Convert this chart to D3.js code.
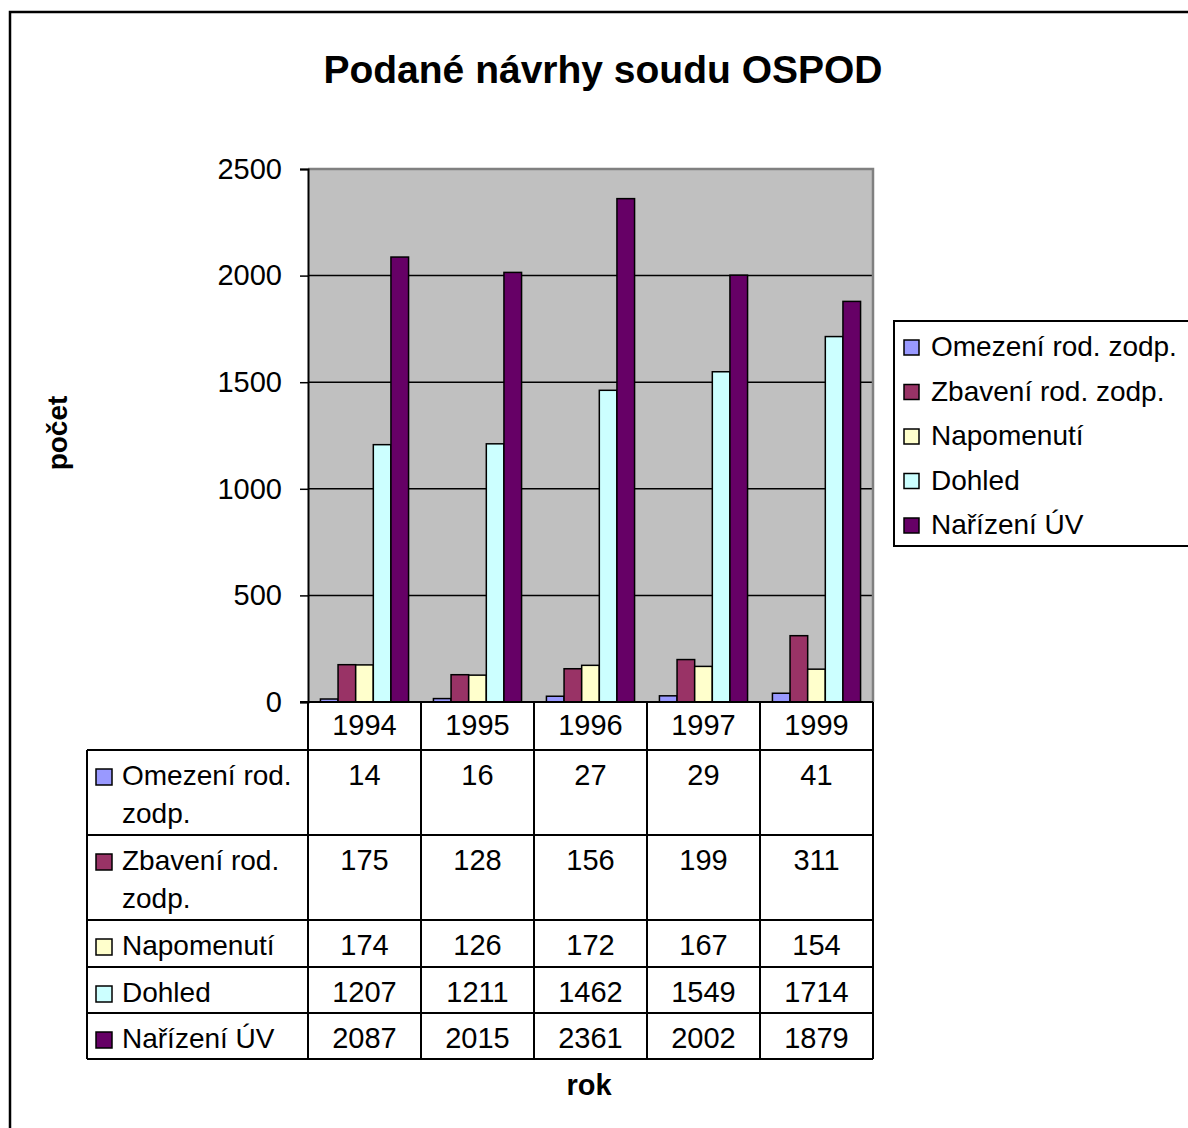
<html>
<head>
    <title>Podané návrhy soudu OSPOD</title>
    <script src="https://d3js.org/d3.v7.min.js"></script>
    <style>
        body { margin: 0; background: #fff; }
        text { font-family: "Liberation Sans", Arial, sans-serif; fill: #000; }
        .grid line { stroke: #000; stroke-width: 1.5px; }
        .bars rect { stroke: #000; stroke-width: 1.5px; }
        .tbl line { stroke: #000; stroke-width: 2px; }
    </style>
</head>
<body>
<svg width="1188" height="1128"></svg>
<script>

    // data
    var years = ["1994", "1995", "1996", "1997", "1999"];
    var seriesNames = ["Omezení rod. zodp.", "Zbavení rod. zodp.", "Napomenutí", "Dohled", "Nařízení ÚV"];
    var omezeni = [14, 16, 27, 29, 41];
    var zbaveni = [175, 128, 156, 199, 311];
    var napomenuti = [174, 126, 172, 167, 154];
    var dohled = [1207, 1211, 1462, 1549, 1714];
    var narizeni = [2087, 2015, 2361, 2002, 1879];
    var yTicks = [0, 500, 1000, 1500, 2000, 2500];

    var colors = ["#9999FF", "#993366", "#FFFFCC", "#CCFFFF", "#660066"];
    var values = [omezeni, zbaveni, napomenuti, dohled, narizeni];
    // labels split for table left column
    var tableLabels = [["Omezení rod.", "zodp."], ["Zbavení rod.", "zodp."], ["Napomenutí"], ["Dohled"], ["Nařízení ÚV"]];

    var svg = d3.select("svg");

    var plot = {left: 308, right: 873, top: 169, bottom: 702};

    // outer frame
    svg.append("rect")
        .attr("x", 10).attr("y", 12)
        .attr("width", 1250).attr("height", 1250)
        .attr("fill", "none").attr("stroke", "#000").attr("stroke-width", 2.5);

    // title
    svg.append("text")
        .attr("x", 603).attr("y", 83)
        .attr("text-anchor", "middle")
        .style("font-size", "39px").style("font-weight", "bold")
        .text("Podané návrhy soudu OSPOD");

    var x0 = d3.scaleBand().domain(years).range([plot.left, plot.right])
        .paddingInner(0.22).paddingOuter(0.11);
    var x1 = d3.scaleBand().domain(d3.range(seriesNames.length)).range([0, x0.bandwidth()]);
    var y = d3.scaleLinear().domain([0, 2500]).range([plot.bottom, plot.top]);

    // plot background
    svg.append("rect")
        .attr("x", plot.left).attr("y", plot.top)
        .attr("width", plot.right - plot.left).attr("height", plot.bottom - plot.top)
        .attr("fill", "#C0C0C0");

    // gridlines
    svg.append("g").attr("class", "grid")
        .selectAll("line")
        .data(yTicks.slice(1))
        .enter().append("line")
        .attr("x1", plot.left).attr("x2", plot.right)
        .attr("y1", function(d) { return y(d); })
        .attr("y2", function(d) { return y(d); });

    // plot border top/right gray
    svg.append("path")
        .attr("d", "M" + plot.left + "," + plot.top + "H" + plot.right + "V" + plot.bottom)
        .attr("fill", "none").attr("stroke", "#808080").attr("stroke-width", 2.5);

    // bars
    var bars = svg.append("g").attr("class", "bars");
    years.forEach(function(yr, i) {
        bars.selectAll(null)
            .data(values.map(function(v, s) { return {s: s, v: v[i]}; }))
            .enter().append("rect")
            .attr("x", function(d) { return x0(yr) + x1(d.s); })
            .attr("y", function(d) { return y(d.v); })
            .attr("width", x1.bandwidth())
            .attr("height", function(d) { return y(0) - y(d.v); })
            .attr("fill", function(d) { return colors[d.s]; });
    });

    // y axis
    var yAxis = svg.append("g")
        .attr("transform", "translate(" + plot.left + ",0)")
        .call(d3.axisLeft(y).tickValues(yTicks).tickSize(8).tickPadding(18).tickFormat(d3.format("d")));
    yAxis.select(".domain").attr("stroke", "#000").attr("stroke-width", 2);
    yAxis.selectAll(".tick line").attr("stroke", "#000").attr("stroke-width", 1.5);
    yAxis.selectAll(".tick text")
        .style("font-size", "29px")
        .style("font-family", "'Liberation Sans', Arial, sans-serif")
        .attr("fill", "#000");

    // x axis line
    svg.append("line")
        .attr("x1", plot.left - 8).attr("x2", plot.right)
        .attr("y1", plot.bottom).attr("y2", plot.bottom)
        .attr("stroke", "#000").attr("stroke-width", 2);

    // data table
    var rowTops = [750, 835, 920, 967, 1013];
    var tableBottom = 1059;
    var tblLeft = 87;
    var tbl = svg.append("g").attr("class", "tbl");
    var colEdges = years.map(function(d) { return x0(d) - x0.step() * x0.paddingInner() / 2; }).concat([plot.right]);

    // vertical lines
    colEdges.forEach(function(cx) {
        tbl.append("line").attr("x1", cx).attr("x2", cx).attr("y1", plot.bottom).attr("y2", tableBottom);
    });
    tbl.append("line").attr("x1", tblLeft).attr("x2", tblLeft).attr("y1", rowTops[0]).attr("y2", tableBottom);
    // horizontal lines
    rowTops.concat([tableBottom]).forEach(function(ry) {
        tbl.append("line").attr("x1", tblLeft).attr("x2", plot.right).attr("y1", ry).attr("y2", ry);
    });

    // year labels
    svg.append("g").selectAll("text")
        .data(years)
        .enter().append("text")
        .attr("x", function(d) { return x0(d) + x0.bandwidth() / 2; })
        .attr("y", 735)
        .attr("text-anchor", "middle")
        .style("font-size", "29px")
        .text(function(d) { return d; });

    // table rows
    values.forEach(function(vals, s) {
        var top = rowTops[s];
        var base = top + 35;
        var row = svg.append("g");
        row.append("rect")
            .attr("x", 96).attr("y", base - 16)
            .attr("width", 16).attr("height", 16)
            .attr("fill", colors[s]).attr("stroke", "#000").attr("stroke-width", 1.5);
        tableLabels[s].forEach(function(line, li) {
            row.append("text")
                .attr("x", 122).attr("y", base + li * 38)
                .style("font-size", "28px")
                .text(line);
        });
        row.selectAll(".val")
            .data(vals)
            .enter().append("text")
            .attr("class", "val")
            .attr("x", function(d, i) { return x0(years[i]) + x0.bandwidth() / 2; })
            .attr("y", base)
            .attr("text-anchor", "middle")
            .style("font-size", "29px")
            .text(function(d) { return d; });
    });

    // axis titles
    svg.append("text")
        .attr("transform", "translate(67,433) rotate(-90)")
        .attr("text-anchor", "middle")
        .style("font-size", "28px").style("font-weight", "bold")
        .text("počet");

    svg.append("text")
        .attr("x", 589).attr("y", 1095)
        .attr("text-anchor", "middle")
        .style("font-size", "29px").style("font-weight", "bold")
        .text("rok");

    // legend
    var legend = svg.append("g");
    legend.append("rect")
        .attr("x", 894).attr("y", 321)
        .attr("width", 320).attr("height", 225)
        .attr("fill", "#fff").attr("stroke", "#000").attr("stroke-width", 2);
    var items = legend.selectAll(".item")
        .data(seriesNames)
        .enter().append("g")
        .attr("class", "item")
        .attr("transform", function(d, i) { return "translate(0," + (356 + i * 44.5) + ")"; });
    items.append("rect")
        .attr("x", 904).attr("y", -16)
        .attr("width", 15).attr("height", 15)
        .attr("fill", function(d, i) { return colors[i]; })
        .attr("stroke", "#000").attr("stroke-width", 1.5);
    items.append("text")
        .attr("x", 931).attr("y", 0)
        .style("font-size", "28px")
        .text(function(d) { return d; });

</script>
</body>
</html>
